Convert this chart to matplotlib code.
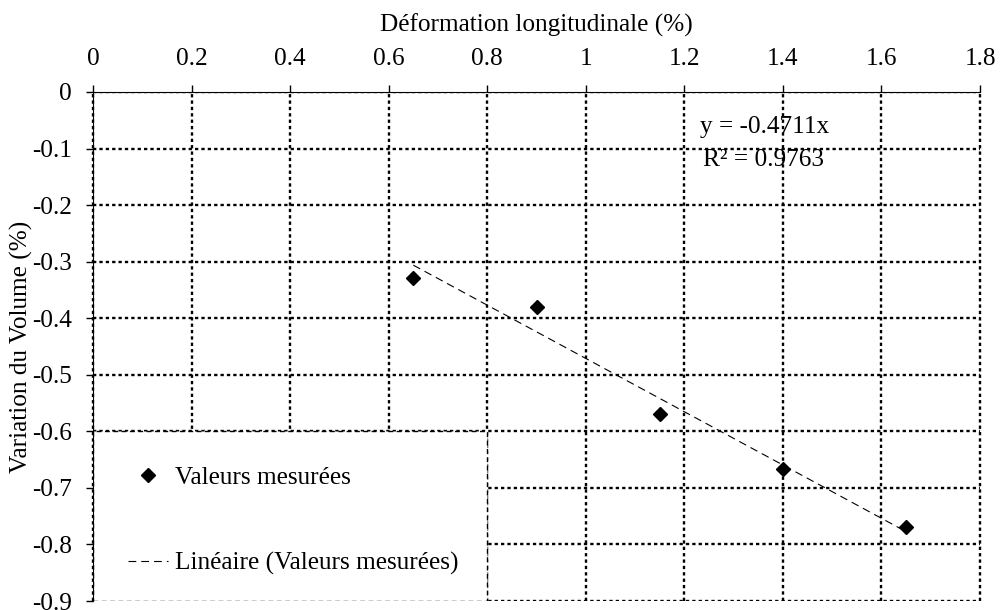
import numpy as np
import matplotlib
matplotlib.use("Agg")
import matplotlib.pyplot as plt
from matplotlib.patches import Rectangle
from matplotlib.ticker import FuncFormatter

plt.rcParams['font.family'] = ['Liberation Serif', 'DejaVu Serif']
plt.rcParams['font.size'] = 18.2

# valeurs mesurées
deformation = [0.65, 0.9, 1.15, 1.4, 1.65]
variation_volume = [-0.328, -0.38, -0.57, -0.667, -0.77]

pente = -0.4711
r2 = 0.9763

x_ticks = [0, 0.2, 0.4, 0.6, 0.8, 1, 1.2, 1.4, 1.6, 1.8]
y_ticks = [0, -0.1, -0.2, -0.3, -0.4, -0.5, -0.6, -0.7, -0.8, -0.9]

fig = plt.figure(figsize=(10.02, 6.10), dpi=100)
ax = fig.add_axes([93 / 1002, 9 / 610, 887 / 1002, 509 / 610])

ax.set_xlim(0, 1.8)
ax.set_ylim(-0.9, 0)
ax.set_xticks(x_ticks)
ax.set_yticks(y_ticks)
fmt = FuncFormatter(lambda v, p: "%g" % round(v, 2))
ax.xaxis.set_major_formatter(fmt)
ax.yaxis.set_major_formatter(fmt)

ax.xaxis.tick_top()
ax.xaxis.set_label_position('top')
ax.tick_params(direction='out', length=5, width=1)
ax.tick_params(axis='x', pad=11)
ax.tick_params(axis='y', pad=10)
ax.spines['bottom'].set_visible(False)
ax.spines['right'].set_visible(False)

ax.set_axisbelow(True)
ax.grid(True, color='black', linewidth=1.7, linestyle=(0, (1.4, 1.3)))
for gl in ax.get_xgridlines():
    gl.set_clip_on(False)

# zone de la légende
ax.add_patch(Rectangle((0, -0.9), 0.8, 0.3, facecolor='white', edgecolor='black',
                       linewidth=1.0, linestyle=(0, (3.5, 2.5)), zorder=1.5))

# droite de tendance
xt = np.array([min(deformation), max(deformation)])
ax.plot(xt, pente * xt, color='black', linewidth=0.8, linestyle=(0, (7, 4.5)),
        label='Linéaire (Valeurs mesurées)', zorder=3)
ax.plot(deformation, variation_volume, linestyle='none', marker='D', markersize=7.5,
        color='black', label='Valeurs mesurées', zorder=4)

ax.text(0.684, 0.931, "y = -0.4711x", transform=ax.transAxes, va='center', ha='left')
ax.text(0.688, 0.866, "R² = %.4f" % r2, transform=ax.transAxes, va='center', ha='left')

h, l = ax.get_legend_handles_labels()
leg = ax.legend(h[::-1], l[::-1], loc='center left', bbox_to_anchor=(0.04, 0.158),
                frameon=False, borderpad=0, borderaxespad=0, handlelength=1.55,
                handletextpad=0.3, labelspacing=2.5)
leg.set_zorder(5)

ax.set_xlabel("Déformation longitudinale (%)", labelpad=12)
ax.set_ylabel("Variation du Volume (%)")
ax.yaxis.set_label_coords(-0.068, 0.5)

fig.savefig("out.png", dpi=100)
